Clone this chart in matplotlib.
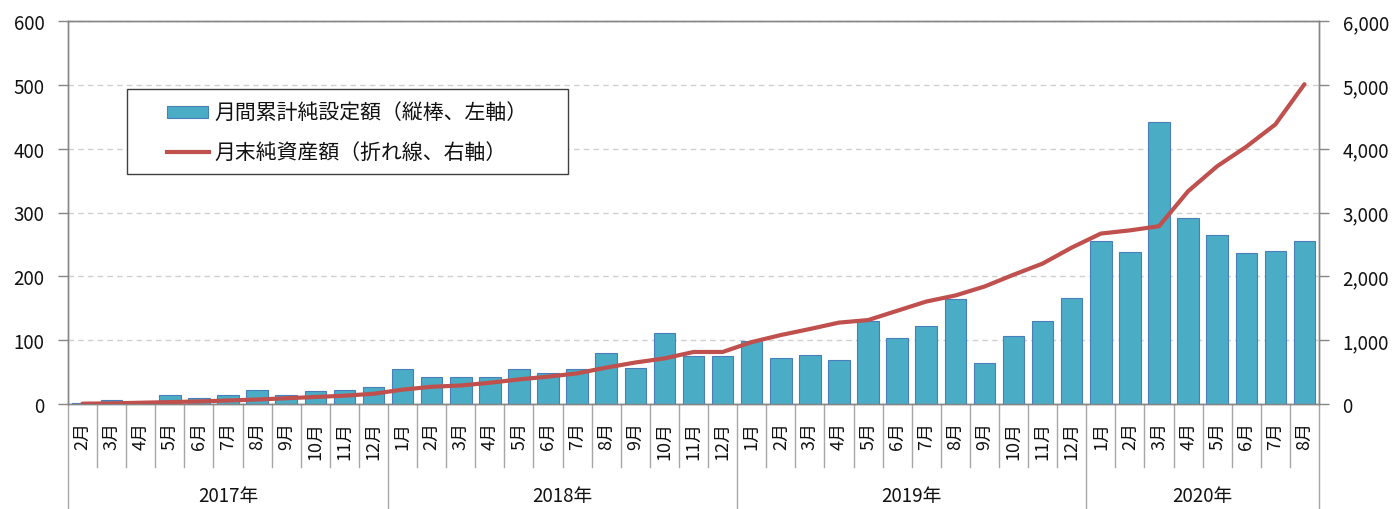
import matplotlib
matplotlib.use("Agg")
import matplotlib.pyplot as plt
import matplotlib.transforms as mtransforms
from matplotlib.lines import Line2D
from matplotlib.patches import Rectangle

plt.rcParams['font.family'] = ['Noto Sans CJK JP', 'DejaVu Sans']

# ---- data ----
years = ["2017年", "2018年", "2019年", "2020年"]
months_per_year = [
    ["2月", "3月", "4月", "5月", "6月", "7月", "8月", "9月", "10月", "11月", "12月"],
    ["1月", "2月", "3月", "4月", "5月", "6月", "7月", "8月", "9月", "10月", "11月", "12月"],
    ["1月", "2月", "3月", "4月", "5月", "6月", "7月", "8月", "9月", "10月", "11月", "12月"],
    ["1月", "2月", "3月", "4月", "5月", "6月", "7月", "8月"],
]
net_inflow = [
    2, 6, 1, 14, 10, 14, 22, 14, 20, 22, 26,
    55, 42, 42, 42, 55, 48, 55, 80, 56, 112, 75, 75,
    98, 72, 77, 69, 130, 103, 122, 165, 65, 106, 130, 166,
    255, 238, 442, 292, 265, 236, 239, 255,
]
net_assets = [
    5, 10, 20, 30, 40, 55, 70, 90, 110, 130, 160,
    225, 270, 290, 333, 385, 428, 480, 570, 650, 714, 815, 815,
    970, 1080, 1175, 1275, 1315, 1460, 1605, 1700, 1840, 2025, 2200, 2450,
    2670, 2720, 2785, 3333, 3725, 4030, 4380, 5010,
]
left_ticks = [0, 100, 200, 300, 400, 500, 600]
right_ticks = [0, 1000, 2000, 3000, 4000, 5000, 6000]
bar_label = "月間累計純設定額（縦棒、左軸）"
line_label = "月末純資産額（折れ線、右軸）"

month_labels = [m for ms in months_per_year for m in ms]
n = len(month_labels)
x = list(range(n))

BAR_COLOR = "#4BACC6"
BAR_EDGE = "#4A7EBB"
LINE_COLOR = "#C0504D"
AXIS_COLOR = "#868686"
GRID_COLOR = "#D0D0D0"
TEXT_COLOR = "#111111"

fig = plt.figure(figsize=(13.96, 5.10), dpi=100)
W, H = 1396, 510
left_px, right_px, top_px, bottom_px = 68, 1319, 22, 405
ax = fig.add_axes([left_px / W, 1 - bottom_px / H,
                   (right_px - left_px) / W, (bottom_px - top_px) / H])

ax.bar(x, net_inflow, width=0.74, color=BAR_COLOR, edgecolor=BAR_EDGE,
       linewidth=0.8, zorder=3)
ax.set_xlim(-0.5, n - 0.5)
ax.set_ylim(0, 600)
ax.set_yticks(left_ticks)
ax.set_yticklabels([f"{v:,}" for v in left_ticks])
ax.yaxis.grid(True, linestyle=(0, (4, 3)), color=GRID_COLOR, linewidth=1.0, zorder=0)
ax.set_axisbelow(True)

ax2 = ax.twinx()
ax2.plot(x, net_assets, color=LINE_COLOR, linewidth=3.0, zorder=4,
         solid_capstyle='round', solid_joinstyle='round')
ax2.set_ylim(0, 6000)
ax2.set_yticks(right_ticks)
ax2.set_yticklabels([f"{v:,}" for v in right_ticks])

for a in (ax, ax2):
    for s in a.spines.values():
        s.set_color(AXIS_COLOR)
        s.set_linewidth(1.0)

for a in (ax, ax2):
    a.tick_params(axis='y', which='major', length=7, width=1.0, color=AXIS_COLOR,
                  labelsize=13.5, pad=10, direction='out', labelcolor=TEXT_COLOR)

# month tick labels
ax.set_xticks(x)
ax.set_xticklabels(month_labels, rotation=90, fontsize=13)
ax.tick_params(axis='x', length=0, pad=12, labelcolor=TEXT_COLOR)
for lbl in ax.get_xticklabels():
    lbl.set_verticalalignment('top')
    lbl.set_horizontalalignment('center')

# category separators
trans = mtransforms.blended_transform_factory(ax.transData, ax.transAxes)
axis_h = bottom_px - top_px
y_month_end = -(468 - bottom_px) / axis_h
y_year_end = -(510 - bottom_px) / axis_h
year_bounds = [-0.5]
for ms in months_per_year:
    year_bounds.append(year_bounds[-1] + len(ms))
for i in range(n + 1):
    xb = i - 0.5
    y_end = y_year_end if xb in year_bounds else y_month_end
    ax.add_line(Line2D([xb, xb], [0, y_end], transform=trans, color="#A6A6A6",
                       linewidth=1.0, clip_on=False))

# year labels
y_year_text = -(497 - bottom_px) / axis_h
for yi, yr in enumerate(years):
    xc = (year_bounds[yi] + year_bounds[yi + 1]) / 2
    ax.text(xc, y_year_text, yr, transform=trans, ha='center', va='center',
            fontsize=13.5, color=TEXT_COLOR)

# legend (drawn in figure pixel positions)
def fx(px):
    return px / W

def fy(py):
    return 1 - py / H

fig.patches.append(Rectangle((fx(127), fy(175)), fx(568) - fx(127), fy(90) - fy(175),
                             transform=fig.transFigure, facecolor='white',
                             edgecolor='#404040', linewidth=1.0, zorder=10))
fig.patches.append(Rectangle((fx(167), fy(119)), fx(208) - fx(167), fy(107) - fy(119),
                             transform=fig.transFigure, facecolor=BAR_COLOR,
                             edgecolor=BAR_EDGE, linewidth=0.8, zorder=11))
fig.lines.append(Line2D([fx(167), fx(209)], [fy(153), fy(153)],
                        transform=fig.transFigure, color=LINE_COLOR,
                        linewidth=3.0, zorder=11))
fig.text(fx(214), fy(113), bar_label, ha='left', va='center', fontsize=15,
         color=TEXT_COLOR, zorder=12)
fig.text(fx(214), fy(153), line_label, ha='left', va='center', fontsize=15,
         color=TEXT_COLOR, zorder=12)

fig.savefig("out.png", dpi=100)
